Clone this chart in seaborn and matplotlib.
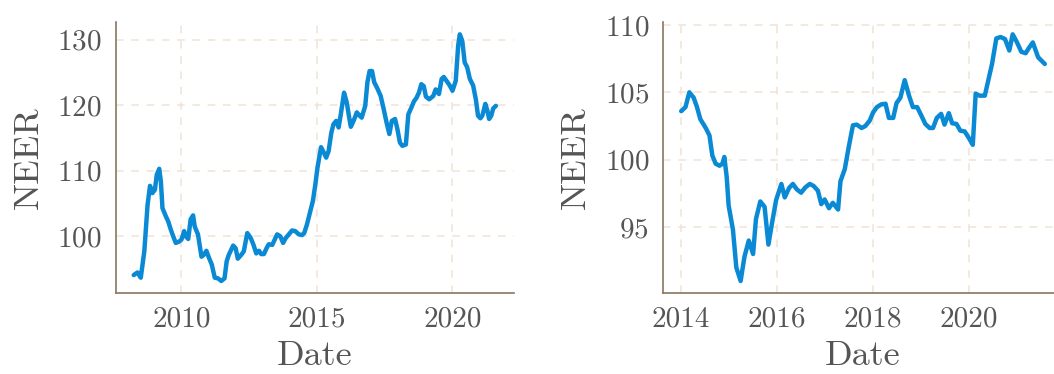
import numpy as np
import pandas as pd
import matplotlib
matplotlib.use("Agg")
import matplotlib.pyplot as plt
import matplotlib.dates as mdates
import seaborn as sns

# NEER, long history (decimal-year dates)
long_dates = [2008.24, 2008.38, 2008.5, 2008.63, 2008.75, 2008.84, 2008.93, 2009.02, 2009.09, 2009.18,
              2009.24, 2009.30, 2009.42, 2009.51, 2009.61, 2009.67, 2009.79, 2009.91, 2010.0, 2010.1,
              2010.16, 2010.25, 2010.34, 2010.43, 2010.49, 2010.61, 2010.74, 2010.83, 2010.92, 2011.02,
              2011.12, 2011.23, 2011.35, 2011.47, 2011.59, 2011.67, 2011.75, 2011.91, 2012.0, 2012.08,
              2012.21, 2012.3, 2012.43, 2012.55, 2012.65, 2012.76, 2012.86, 2012.94, 2013.04, 2013.14,
              2013.22, 2013.35, 2013.53, 2013.65, 2013.75, 2013.84, 2013.96, 2014.08, 2014.2, 2014.33,
              2014.45, 2014.53, 2014.63, 2014.75, 2014.85, 2014.94, 2015.02, 2015.15, 2015.25, 2015.34,
              2015.43, 2015.53, 2015.61, 2015.71, 2015.8, 2015.88, 2016.0, 2016.1, 2016.19, 2016.25,
              2016.35, 2016.47, 2016.57, 2016.65, 2016.78, 2016.86, 2016.94, 2017.03, 2017.11, 2017.21,
              2017.35, 2017.45, 2017.57, 2017.67, 2017.76, 2017.88, 2017.97, 2018.06, 2018.15, 2018.28,
              2018.37, 2018.49, 2018.58, 2018.67, 2018.76, 2018.85, 2018.94, 2019.02, 2019.14, 2019.29,
              2019.38, 2019.5, 2019.6, 2019.68, 2019.8, 2019.9, 2020.0, 2020.12, 2020.21, 2020.27,
              2020.36, 2020.45, 2020.54, 2020.64, 2020.76, 2020.86, 2020.94, 2021.03, 2021.1, 2021.21,
              2021.29, 2021.35, 2021.43, 2021.5, 2021.6]
long_neer = [94.1, 94.5, 93.7, 97.7, 104.8, 107.7, 106.6, 107.1, 109.4, 110.3,
             108.4, 104.3, 103.1, 102.3, 101.0, 100.3, 99.0, 99.2, 99.5, 100.8,
             100.0, 99.6, 102.6, 103.2, 101.5, 100.3, 96.9, 97.2, 97.8, 96.7,
             95.7, 93.7, 93.6, 93.2, 93.6, 96.2, 97.2, 98.6, 98.2, 96.6,
             97.2, 97.7, 100.5, 99.8, 98.8, 97.4, 97.8, 97.3, 97.3, 98.2,
             98.8, 98.7, 100.3, 100.0, 99.0, 99.7, 100.3, 100.9, 100.8, 100.3,
             100.2, 100.5, 101.8, 103.8, 105.4, 107.9, 110.5, 113.6, 112.8, 112.0,
             113.0, 115.8, 117.1, 117.6, 116.6, 118.6, 121.9, 120.4, 118.1, 116.7,
             117.6, 118.9, 118.4, 118.1, 119.9, 123.5, 125.2, 125.2, 123.5, 122.7,
             121.4, 119.6, 117.3, 115.6, 117.6, 117.9, 116.3, 114.3, 113.8, 114.0,
             118.6, 119.7, 120.6, 121.1, 121.9, 123.2, 122.9, 121.3, 120.9, 121.4,
             122.4, 121.7, 124.0, 124.3, 123.6, 123.0, 122.2, 123.7, 129.1, 130.8,
             129.8, 126.5, 125.8, 124.0, 123.0, 120.9, 118.4, 118.0, 118.4, 120.2,
             119.1, 117.9, 118.4, 119.5, 119.9]

# NEER since 2014 (decimal-year dates)
recent_dates = [2014.0, 2014.09, 2014.17, 2014.26, 2014.33, 2014.40, 2014.47, 2014.52, 2014.59, 2014.65,
                2014.72, 2014.80, 2014.86, 2014.9, 2014.95, 2014.99, 2015.08, 2015.15, 2015.24, 2015.32,
                2015.41, 2015.50, 2015.56, 2015.65, 2015.74, 2015.82, 2015.89, 2015.98, 2016.09, 2016.16,
                2016.25, 2016.33, 2016.41, 2016.50, 2016.59, 2016.68, 2016.76, 2016.85, 2016.92, 2016.99,
                2017.08, 2017.16, 2017.27, 2017.32, 2017.41, 2017.49, 2017.58, 2017.66, 2017.76, 2017.84,
                2017.93, 2018.0, 2018.08, 2018.17, 2018.26, 2018.33, 2018.42, 2018.49, 2018.57, 2018.66,
                2018.75, 2018.83, 2018.92, 2019.01, 2019.09, 2019.18, 2019.25, 2019.33, 2019.42, 2019.49,
                2019.58, 2019.65, 2019.74, 2019.82, 2019.91, 2020.0, 2020.08, 2020.14, 2020.22, 2020.33,
                2020.40, 2020.48, 2020.57, 2020.66, 2020.75, 2020.84, 2020.91, 2021.0, 2021.09, 2021.18,
                2021.25, 2021.33, 2021.44, 2021.58]
recent_neer = [103.6, 103.9, 105.0, 104.6, 103.9, 103.0, 102.6, 102.3, 101.8, 100.3,
               99.7, 99.55, 99.7, 100.2, 98.7, 96.6, 94.8, 92.0, 91.0, 92.8,
               94.0, 93.0, 95.6, 96.9, 96.5, 93.7, 95.2, 97.0, 98.2, 97.2,
               97.9, 98.2, 97.8, 97.55, 97.95, 98.2, 98.05, 97.7, 96.7, 97.05,
               96.4, 96.8, 96.3, 98.4, 99.3, 100.9, 102.55, 102.6, 102.35, 102.5,
               102.9, 103.5, 103.9, 104.1, 104.15, 103.1, 103.1, 104.2, 104.6, 105.9,
               104.75, 103.9, 103.9, 103.25, 102.65, 102.35, 102.35, 103.1, 103.4, 102.6,
               103.45, 102.7, 102.65, 102.15, 102.1, 101.6, 101.1, 104.9, 104.75, 104.75,
               105.85, 107.1, 109.0, 109.1, 108.95, 108.1, 109.3, 108.7, 108.0, 107.9,
               108.3, 108.7, 107.6, 107.1]

long_yticks = [100, 110, 120, 130]
recent_yticks = [95, 100, 105, 110]

LINE = "#0a8ad4"
SPINE = "#8a7560"
GRID = "#f0e3d6"
TEXT = "#555555"


def to_datetime(decimal_years):
    out = []
    for d in decimal_years:
        year = int(np.floor(d))
        start = pd.Timestamp(year=year, month=1, day=1)
        end = pd.Timestamp(year=year + 1, month=1, day=1)
        out.append(start + (end - start) * (d - year))
    return pd.to_datetime(out)


long_df = pd.DataFrame({"Date": to_datetime(long_dates), "NEER": long_neer})
recent_df = pd.DataFrame({"Date": to_datetime(recent_dates), "NEER": recent_neer})

sns.set_style("white")
plt.rcParams["font.family"] = ["cmr10", "DejaVu Serif"]
plt.rcParams["mathtext.fontset"] = "cm"
plt.rcParams["axes.formatter.use_mathtext"] = True
plt.rcParams["axes.unicode_minus"] = False

fig = plt.figure(figsize=(10.54, 3.74), dpi=100)
W, H = 1054, 374
ax1 = fig.add_axes([115.6 / W, (H - 293.3) / H, (514 - 115.6) / W, (293.3 - 22) / H])
ax2 = fig.add_axes([663 / W, (H - 293.3) / H, (1063 - 663) / W, (293.3 - 22) / H])

for ax, df, yticks, locator in [
    (ax1, long_df, long_yticks, mdates.YearLocator(5)),
    (ax2, recent_df, recent_yticks, mdates.YearLocator(2)),
]:
    sns.lineplot(data=df, x="Date", y="NEER", ax=ax, color=LINE, linewidth=3.2)
    ax.set_yticks(yticks)
    ax.xaxis.set_major_locator(locator)
    ax.xaxis.set_major_formatter(mdates.DateFormatter("%Y"))
    ax.grid(True, color=GRID, linestyle=(0, (5, 5)), linewidth=1.1)
    ax.set_axisbelow(True)
    for side in ["top", "right"]:
        ax.spines[side].set_visible(False)
    for side in ["left", "bottom"]:
        ax.spines[side].set_color(SPINE)
        ax.spines[side].set_linewidth(1.2)
    ax.tick_params(axis="both", which="major", direction="out", length=6, width=1.1,
                   color=SPINE, labelcolor=TEXT, labelsize=21, pad=4)
    ax.tick_params(axis="x", pad=3)
    ax.set_xlabel("Date", fontsize=26, color=TEXT, labelpad=6)
    ax.set_ylabel("NEER", fontsize=26, color=TEXT, labelpad=9)

fig.savefig("out.png", dpi=100)
